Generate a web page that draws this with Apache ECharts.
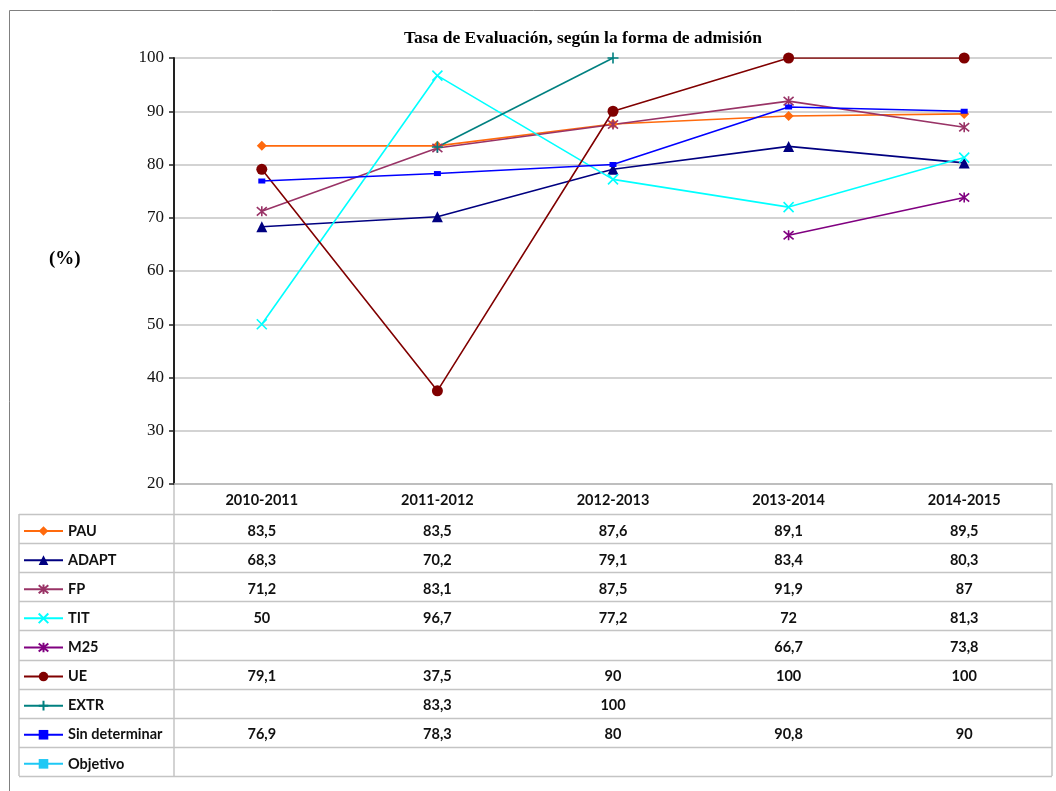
<!DOCTYPE html>
<html>
<head>
<meta charset="utf-8">
<script src="https://cdn.jsdelivr.net/npm/echarts@6/dist/echarts.min.js"></script>
<style>
html,body{margin:0;padding:0;background:#fff;}
#chart{width:1056px;height:791px;}
</style>
</head>
<body>
<div id="chart"></div>
<script>
// ---- Data ----
var categories = ['2010-2011', '2011-2012', '2012-2013', '2013-2014', '2014-2015'];
var yTicks = [20, 30, 40, 50, 60, 70, 80, 90, 100];
var seriesNames = ['PAU', 'ADAPT', 'FP', 'TIT', 'M25', 'UE', 'EXTR', 'Sin determinar', 'Objetivo'];
var PAU = [83.5, 83.5, 87.6, 89.1, 89.5];
var ADAPT = [68.3, 70.2, 79.1, 83.4, 80.3];
var FP = [71.2, 83.1, 87.5, 91.9, 87];
var TIT = [50, 96.7, 77.2, 72, 81.3];
var M25 = [null, null, null, 66.7, 73.8];
var UE = [79.1, 37.5, 90, 100, 100];
var EXTR = [null, 83.3, 100, null, null];
var SIN = [76.9, 78.3, 80, 90.8, 90];
var OBJETIVO = [null, null, null, null, null];
var seriesValues = [PAU, ADAPT, FP, TIT, M25, UE, EXTR, SIN, OBJETIVO];

// ---- Styles ----
var colors = ['#FF6A0D', '#000080', '#993366', '#00FFFF', '#800080', '#800000', '#008080', '#0000FF', '#1EC8F5'];
var X_PATH = 'path://M0,0L10,10M10,0L0,10';
var STAR_PATH = 'path://M0,0L10,10M10,0L0,10M5,-1L5,11';
var PLUS_PATH = 'path://M5,0L5,10M0,5L10,5';
var symbols = ['diamond', 'triangle', STAR_PATH, X_PATH, STAR_PATH, 'circle', PLUS_PATH, 'rect', 'rect'];
var symbolSizes = [10, 11, 10, 10, 10, 11, 11, [7, 5], [10, 5]];

var L = {plotLeft: 174, plotRight: 1052, plotTop: 58, plotBottom: 484, headerH: 30, rowH: 29.1, tableLeft: 19};

var chart = echarts.init(document.getElementById('chart'), null, {renderer: 'canvas'});

function fmt(v) { return String(v).replace('.', ','); }

var series = seriesNames.map(function (name, i) {
  var stroked = (typeof symbols[i] === 'string' && symbols[i].indexOf('path://') === 0);
  return {
    name: name,
    type: 'line',
    data: seriesValues[i],
    symbol: symbols[i],
    symbolSize: symbolSizes[i],
    showAllSymbol: true,
    connectNulls: false,
    lineStyle: {color: colors[i], width: 1.6},
    itemStyle: {color: colors[i], borderColor: colors[i], borderWidth: stroked ? 1.6 : 0},
    emphasis: {disabled: true},
    animation: false,
    z: 3
  };
});

var legends = seriesNames.map(function (name, i) {
  var rowTop = L.plotBottom + L.headerH + i * L.rowH;
  return {
    data: [name],
    left: L.tableLeft + 4,
    top: rowTop + L.rowH / 2 - 5,
    itemWidth: 39,
    itemHeight: 12,
    itemGap: 4,
    selectedMode: false,
    textStyle: {fontFamily: 'Lato', fontWeight: 'bold', fontSize: 14.5, color: '#111', padding: [2, 0, 0, 0]},
    padding: 0
  };
});

var option = {
  backgroundColor: '#fff',
  animation: false,
  title: {
    text: 'Tasa de Evaluación, según la forma de admisión',
    left: 578, top: 24, textAlign: 'center',
    textStyle: {fontFamily: 'Liberation Serif', fontWeight: 'bold', fontSize: 17.5, color: '#000'}
  },
  legend: legends,
  grid: {left: L.plotLeft, right: 1056 - L.plotRight, top: L.plotTop, bottom: 791 - L.plotBottom, containLabel: false},
  xAxis: {
    type: 'category',
    data: categories,
    boundaryGap: true,
    axisLine: {lineStyle: {color: '#b8b8b8', width: 1.5}},
    axisTick: {show: false},
    axisLabel: {margin: 9, fontFamily: 'Lato', fontWeight: 'bold', fontSize: 14.5, color: '#111'},
    splitLine: {show: false}
  },
  yAxis: {
    type: 'value',
    min: yTicks[0], max: yTicks[yTicks.length - 1], interval: yTicks[1] - yTicks[0],
    axisLine: {show: true, lineStyle: {color: '#222', width: 2}},
    axisTick: {show: true, length: 5, lineStyle: {color: '#222', width: 1.5}},
    axisLabel: {margin: 10, fontFamily: 'Liberation Serif', fontSize: 17, color: '#111'},
    splitLine: {show: true, lineStyle: {color: '#c4c4c4', width: 1.5}}
  },
  series: series
};
chart.setOption(option);

// ---- Data table and frame, positioned from the axis scale ----
var g = [];
g.push({type: 'rect', shape: {x: 9.5, y: 10.5, width: 1100, height: 900}, style: {fill: 'none', stroke: '#808080', lineWidth: 1}, silent: true, z: 0});
g.push({type: 'text', left: 49, top: 250, style: {text: '(%)', font: 'bold 19px "Liberation Serif"', fill: '#000'}, silent: true});
var tableTop = L.plotBottom + L.headerH;
var tableBottom = tableTop + seriesNames.length * L.rowH;
var lineColor = '#c4c4c4';
for (var r = 0; r <= seriesNames.length; r++) {
  var y = Math.round(tableTop + r * L.rowH) + 0.5;
  g.push({type: 'line', shape: {x1: L.tableLeft, y1: y, x2: L.plotRight, y2: y}, style: {stroke: lineColor, lineWidth: 1.5}, silent: true});
}
g.push({type: 'line', shape: {x1: L.tableLeft, y1: tableTop, x2: L.tableLeft, y2: tableBottom}, style: {stroke: lineColor, lineWidth: 1.5}, silent: true});
g.push({type: 'line', shape: {x1: L.plotLeft, y1: L.plotBottom, x2: L.plotLeft, y2: tableBottom}, style: {stroke: lineColor, lineWidth: 1.5}, silent: true});
g.push({type: 'line', shape: {x1: L.plotRight, y1: L.plotBottom, x2: L.plotRight, y2: tableBottom}, style: {stroke: lineColor, lineWidth: 1.5}, silent: true});
seriesValues.forEach(function (vals, r) {
  var cy = tableTop + r * L.rowH + L.rowH / 2 + 2.5;
  vals.forEach(function (v, c) {
    if (v === null || v === undefined) return;
    var cx = chart.convertToPixel({xAxisIndex: 0}, c);
    g.push({type: 'text', x: cx, y: cy, style: {text: fmt(v), font: 'bold 14.5px Lato', fill: '#111', align: 'center', verticalAlign: 'middle'}, silent: true});
  });
});
chart.setOption({graphic: {elements: g}});
</script>
</body>
</html>
